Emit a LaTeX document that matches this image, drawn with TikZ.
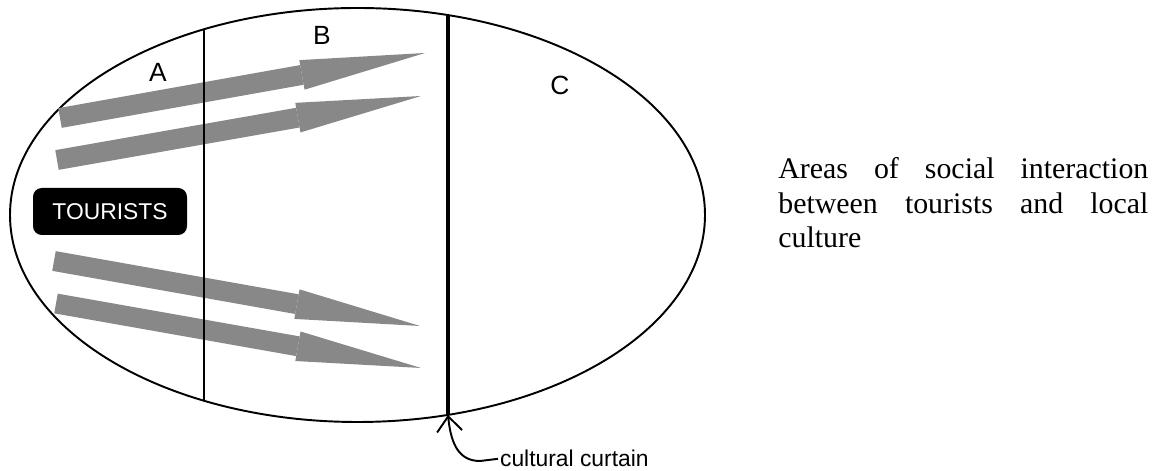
\documentclass[tikz,border=0pt]{standalone}
\usepackage{fontspec}
\setmainfont{Liberation Serif}
\setsansfont{Liberation Sans}
\usepackage{tikz}
\usetikzlibrary{arrows.meta,positioning,calc}
\definecolor{FlowGray}{HTML}{888888}

\begin{document}
\begin{tikzpicture}[
    zone/.style={
        line width=1.1pt,
        color=black,
    },
    zonelabel/.style={
        font=\sffamily\fontsize{15}{17}\selectfont,
        inner sep=0pt,
    },
    flow/.style={
        line width=0.4cm,
        color=FlowGray,
        -{Triangle[length=2.5cm,width=0.6cm,line width=0pt]},
    },
    curtainarrow/.style={
        -{Straight Barb[length=0.3cm,width=0.5cm]},
        line width=1.1pt,
    },
]
\useasboundingbox (0,0) rectangle (23.1,9.42);

% the whole area
\coordinate (ctr) at (7.15,5.12);
\draw[zone] (ctr) ellipse [x radius=6.95, y radius=4.14];

% flows of tourists
\coordinate (t1) at (1.20,7.06); \coordinate (h1) at (8.50,8.36);
\coordinate (t2) at (1.14,6.22); \coordinate (h2) at (8.42,7.50);
\coordinate (t3) at (1.08,4.20); \coordinate (h3) at (8.40,2.90);
\coordinate (t4) at (1.12,3.35); \coordinate (h4) at (8.42,2.06);
\draw[flow] (t1) -- (h1);
\draw[flow] (t2) -- (h2);
\draw[flow] (t3) -- (h3);
\draw[flow] (t4) -- (h4);

% border between A and B, and the cultural curtain
\coordinate (ab1) at ($(ctr)+(116.2:6.95 and 4.14)$);
\coordinate (ab2) at ($(ctr)+(243.8:6.95 and 4.14)$);
\coordinate (cc1) at ($(ctr)+(74.9:6.95 and 4.14)$);
\coordinate (cc2) at ($(ctr)+(285.1:6.95 and 4.14)$);
\draw[zone] (ab1) -- (ab2);
\draw[zone,line width=1.8pt] (cc1) -- (cc2);

\node[zonelabel] (la) at (3.16,7.98) {A};
\node[zonelabel] (lb) at (6.44,8.72) {B};
\node[zonelabel] (lc) at (11.20,7.72) {C};

\node[fill=black,rounded corners=5pt,minimum width=3.08cm,minimum height=0.94cm,
      text=white,font=\sffamily\fontsize{13}{15}\selectfont] (tour) at (2.2,5.19) {TOURISTS};

\node[anchor=base west,inner sep=1pt,font=\sffamily\fontsize{13}{15}\selectfont] (cct) at (9.96,0.08) {cultural curtain};
\draw[curtainarrow] (cct.west) -- (9.6,0.2) .. controls (9.2,0.2) and (9.02,0.5) .. (cc2);

\node[anchor=base west,inner sep=0pt,text width=7.4cm,align=justify,
      font=\fontsize{17}{19.6}\selectfont] (note) at (15.56,5.84)
    {Areas of social interaction\linebreak between tourists and local\linebreak culture};
\end{tikzpicture}
\end{document}
